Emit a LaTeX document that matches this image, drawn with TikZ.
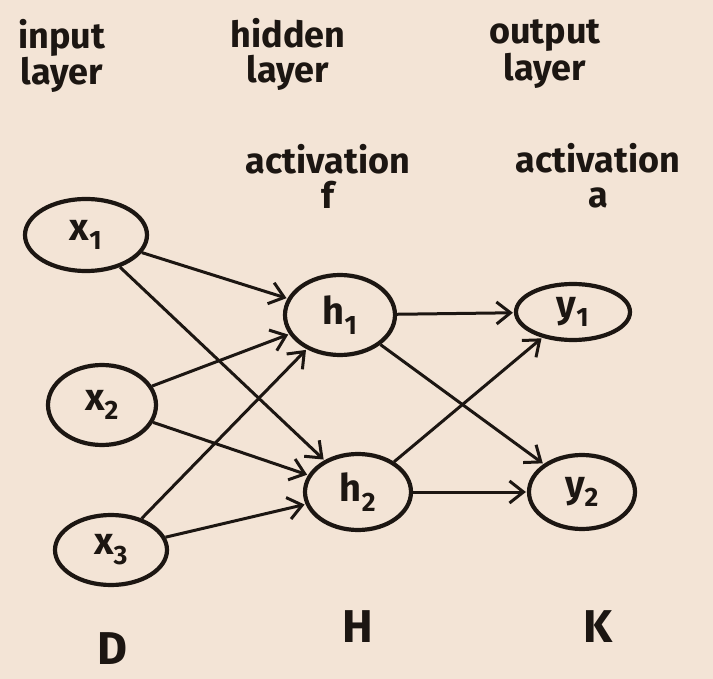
\documentclass[tikz,border=0pt]{standalone}
\usepackage{fontspec}
\setmainfont{Fira Sans}
\usetikzlibrary{shapes.geometric,arrows.meta}
\definecolor{bg}{HTML}{F3E4D6}
\definecolor{ink}{HTML}{1C1612}
\tikzset{
  neuron/.style={ellipse, draw=ink, line width=4.2pt, inner sep=0pt, text=ink, font=\fontsize{38}{38}\selectfont\bfseries},
  lbl/.style={text=ink, align=center, font=\fontsize{36}{35}\selectfont\bfseries},
  biglbl/.style={text=ink, inner sep=1pt, font=\fontsize{46}{46}\selectfont\bfseries},
  conn/.style={draw=ink, line width=3pt, -{Straight Barb[length=14pt,width=22pt,line width=3pt]}, shorten >=1pt}
}
\newcommand{\nsub}[2]{#1\textsubscript{#2}}
\begin{document}
\begin{tikzpicture}[x=1pt,y=-1pt]
\path[use as bounding box, fill=bg] (0,0) rectangle (713,679);
% labels
\node[lbl] (tin) at (62,56) {input\\layer};
\node[lbl] (thid) at (288,54) {hidden\\layer};
\node[lbl] (tout) at (545,54) {output\\layer};
\node[lbl] (tactf) at (328,176) {activation\\f};
\node[lbl] (tacta) at (598,176) {activation\\a};
\node[biglbl] (tH) at (358,627) {H};
\node[biglbl] (tK) at (598,627) {K};
\node[biglbl] (tD) at (112,649) {D};
% neurons
\node[neuron, minimum width=122pt, minimum height=72pt] (x1) at (86,235) {\nsub{x}{1}};
\node[neuron, minimum width=108pt, minimum height=80pt] (x2) at (102,405) {\nsub{x}{2}};
\node[neuron, minimum width=112pt, minimum height=70pt] (x3) at (111,550) {\nsub{x}{3}};
\node[neuron, minimum width=110pt, minimum height=80pt] (h1) at (340,315) {\nsub{h}{1}};
\node[neuron, minimum width=106pt, minimum height=76pt] (h2) at (358,492) {\nsub{h}{2}};
\node[neuron, minimum width=114pt, minimum height=56pt] (y1) at (573,312) {\nsub{y}{1}};
\node[neuron, minimum width=106pt, minimum height=74pt] (y2) at (582,492) {\nsub{y}{2}};
% connectors
\draw[conn] (x1) -- (h1);
\draw[conn] (x1) -- (h2);
\draw[conn] (x2) -- (h1);
\draw[conn] (x2) -- (h2);
\draw[conn] (x3) -- (h1);
\draw[conn] (x3) -- (h2);
\draw[conn] (h1) -- (y1);
\draw[conn] (h1) -- (y2);
\draw[conn] (h2) -- (y1);
\draw[conn] (h2) -- (y2);
\end{tikzpicture}
\end{document}
